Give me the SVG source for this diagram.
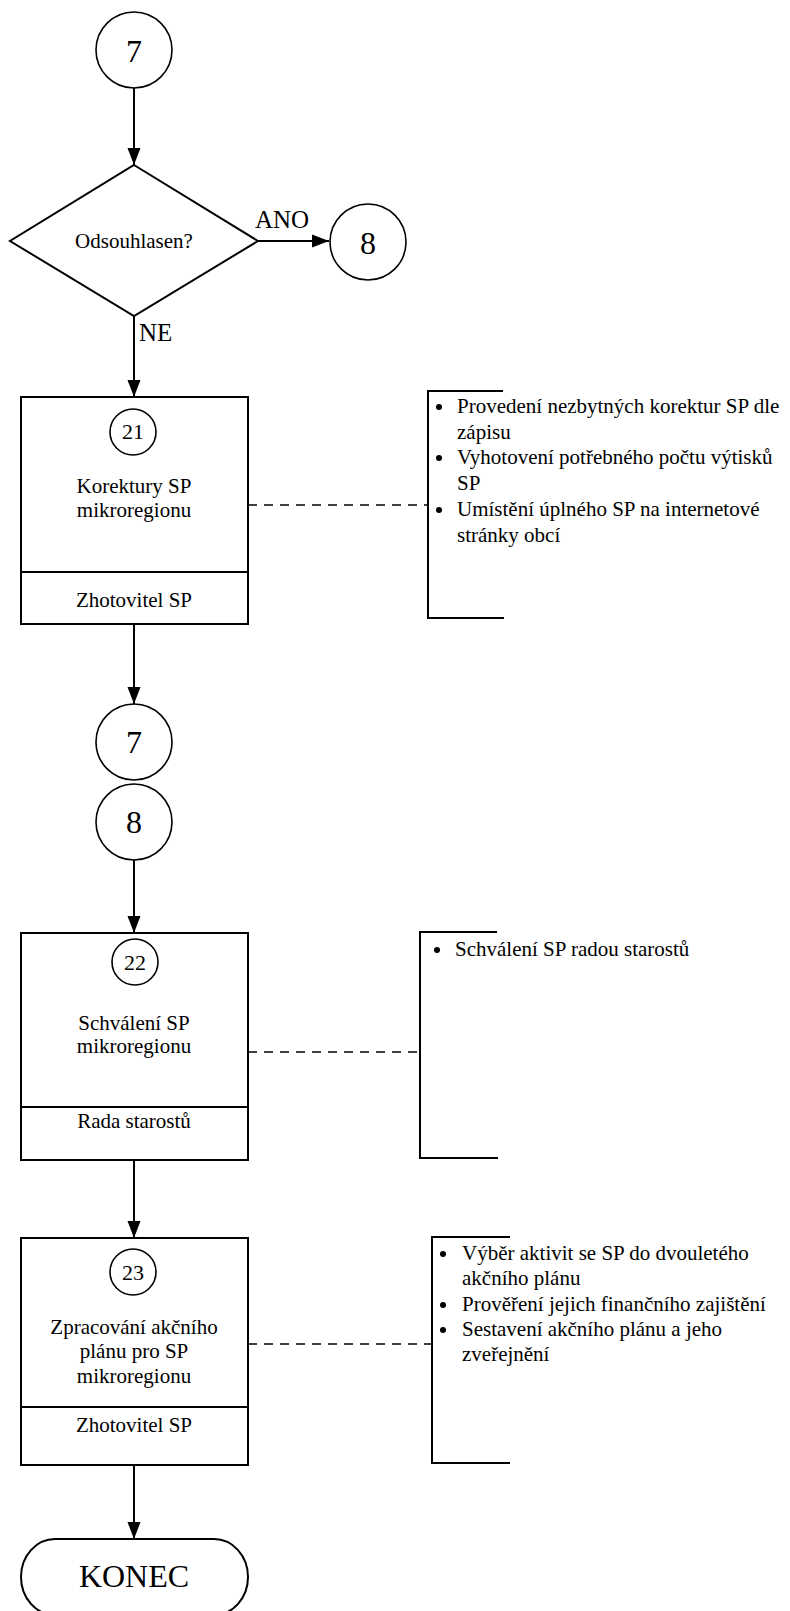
<svg xmlns="http://www.w3.org/2000/svg" width="790" height="1611" viewBox="0 0 790 1611">
  <style>
    text { font-family: "Liberation Serif", "Times New Roman", serif; fill: #000; }
    .big { font-size: 32px; text-anchor: middle; }
    .lbl { font-size: 25px; }
    .mid { font-size: 21px; text-anchor: middle; }
    .num { font-size: 22px; text-anchor: middle; }
    .item { font-size: 21px; }
    .box { fill: #fff; stroke: #000; stroke-width: 2; }
    .ring { fill: #fff; stroke: #000; stroke-width: 1.6; }
    .flow { fill: none; stroke: #000; stroke-width: 2; marker-end: url(#arrow); }
    .dash { fill: none; stroke: #000; stroke-width: 1.6; stroke-dasharray: 9 7; }
    .brk { fill: none; stroke: #000; stroke-width: 2; }
  </style>
  <defs>
    <marker id="arrow" markerUnits="userSpaceOnUse" markerWidth="17" markerHeight="14" refX="17" refY="7" orient="auto">
      <path d="M0,0.5 L17,7 L0,13.5 z" fill="#000"/>
    </marker>
  </defs>
  <rect width="790" height="1611" fill="#fff"/>

  <!-- connectors -->
  <g id="connectors">
    <line class="flow" x1="134" y1="88" x2="134" y2="165"/>
    <line class="flow" x1="258" y1="241" x2="329" y2="241"/>
    <line class="flow" x1="134" y1="316" x2="134" y2="397"/>
    <line class="flow" x1="134" y1="624" x2="134" y2="704"/>
    <line class="flow" x1="134" y1="860" x2="134" y2="933"/>
    <line class="flow" x1="134" y1="1160" x2="134" y2="1238"/>
    <line class="flow" x1="134" y1="1465" x2="134" y2="1539"/>
    <line class="dash" x1="248" y1="505" x2="428" y2="505"/>
    <line class="dash" x1="248" y1="1052" x2="420" y2="1052"/>
    <line class="dash" x1="248" y1="1344" x2="432" y2="1344"/>
    <text class="lbl" x="255" y="228">ANO</text>
    <text class="lbl" x="139" y="341">NE</text>
  </g>

  <!-- connector 7 (top) -->
  <g id="conn7a">
    <circle class="ring" cx="134" cy="50" r="38"/>
    <text class="big" x="134" y="62">7</text>
  </g>

  <!-- decision -->
  <g id="decision">
    <polygon class="box" points="134,165 258,241 134,316 10,241"/>
    <text class="mid" x="134" y="248">Odsouhlasen?</text>
  </g>

  <!-- connector 8 (right) -->
  <g id="conn8a">
    <circle class="ring" cx="368" cy="242" r="38"/>
    <text class="big" x="368" y="254">8</text>
  </g>

  <!-- step 21 -->
  <g id="step21">
    <rect class="box" x="21" y="397" width="227" height="227"/>
    <line class="box" x1="21" y1="572" x2="248" y2="572"/>
    <circle class="ring" cx="133" cy="432" r="23"/>
    <text class="num" x="133" y="439">21</text>
    <text class="mid" x="134" y="493">Korektury SP</text>
    <text class="mid" x="134" y="517">mikroregionu</text>
    <text class="mid" x="134" y="607">Zhotovitel SP</text>
  </g>
  <g id="notes21">
    <polyline class="brk" points="503,391 428,391 428,618 504,618"/>
    <circle cx="439" cy="407" r="3"/>
    <circle cx="439" cy="458" r="3"/>
    <circle cx="439" cy="510" r="3"/>
    <text class="item" x="457" y="413">Provedení nezbytných korektur SP dle</text>
    <text class="item" x="457" y="439">zápisu</text>
    <text class="item" x="457" y="464">Vyhotovení potřebného počtu výtisků</text>
    <text class="item" x="457" y="490">SP</text>
    <text class="item" x="457" y="516">Umístění úplného SP na internetové</text>
    <text class="item" x="457" y="542">stránky obcí</text>
  </g>

  <!-- connectors 7 and 8 (middle) -->
  <g id="conn7b">
    <circle class="ring" cx="134" cy="742" r="38"/>
    <text class="big" x="134" y="753">7</text>
  </g>
  <g id="conn8b">
    <circle class="ring" cx="134" cy="822" r="38"/>
    <text class="big" x="134" y="833">8</text>
  </g>

  <!-- step 22 -->
  <g id="step22">
    <rect class="box" x="21" y="933" width="227" height="227"/>
    <line class="box" x1="21" y1="1107" x2="248" y2="1107"/>
    <circle class="ring" cx="135" cy="962" r="23"/>
    <text class="num" x="135" y="970">22</text>
    <text class="mid" x="134" y="1030">Schválení SP</text>
    <text class="mid" x="134" y="1053">mikroregionu</text>
    <text class="mid" x="134" y="1128">Rada starostů</text>
  </g>
  <g id="notes22">
    <polyline class="brk" points="497,932 420,932 420,1158 498,1158"/>
    <circle cx="437" cy="950" r="3"/>
    <text class="item" x="455" y="956">Schválení SP radou starostů</text>
  </g>

  <!-- step 23 -->
  <g id="step23">
    <rect class="box" x="21" y="1238" width="227" height="227"/>
    <line class="box" x1="21" y1="1407" x2="248" y2="1407"/>
    <circle class="ring" cx="133" cy="1272" r="23"/>
    <text class="num" x="133" y="1280">23</text>
    <text class="mid" x="134" y="1334">Zpracování akčního</text>
    <text class="mid" x="134" y="1358">plánu pro SP</text>
    <text class="mid" x="134" y="1383">mikroregionu</text>
    <text class="mid" x="134" y="1432">Zhotovitel SP</text>
  </g>
  <g id="notes23">
    <polyline class="brk" points="510,1237 432,1237 432,1463 510,1463"/>
    <circle cx="443" cy="1254" r="3"/>
    <circle cx="443" cy="1305" r="3"/>
    <circle cx="443" cy="1330" r="3"/>
    <text class="item" x="462" y="1260">Výběr aktivit se SP do dvouletého</text>
    <text class="item" x="462" y="1285">akčního plánu</text>
    <text class="item" x="462" y="1311">Prověření jejich finančního zajištění</text>
    <text class="item" x="462" y="1336">Sestavení akčního plánu a jeho</text>
    <text class="item" x="462" y="1361">zveřejnění</text>
  </g>

  <!-- end -->
  <g id="end">
    <rect class="box" x="21" y="1539" width="227" height="76" rx="34" ry="38"/>
    <text class="big" x="134" y="1587">KONEC</text>
  </g>
</svg>
